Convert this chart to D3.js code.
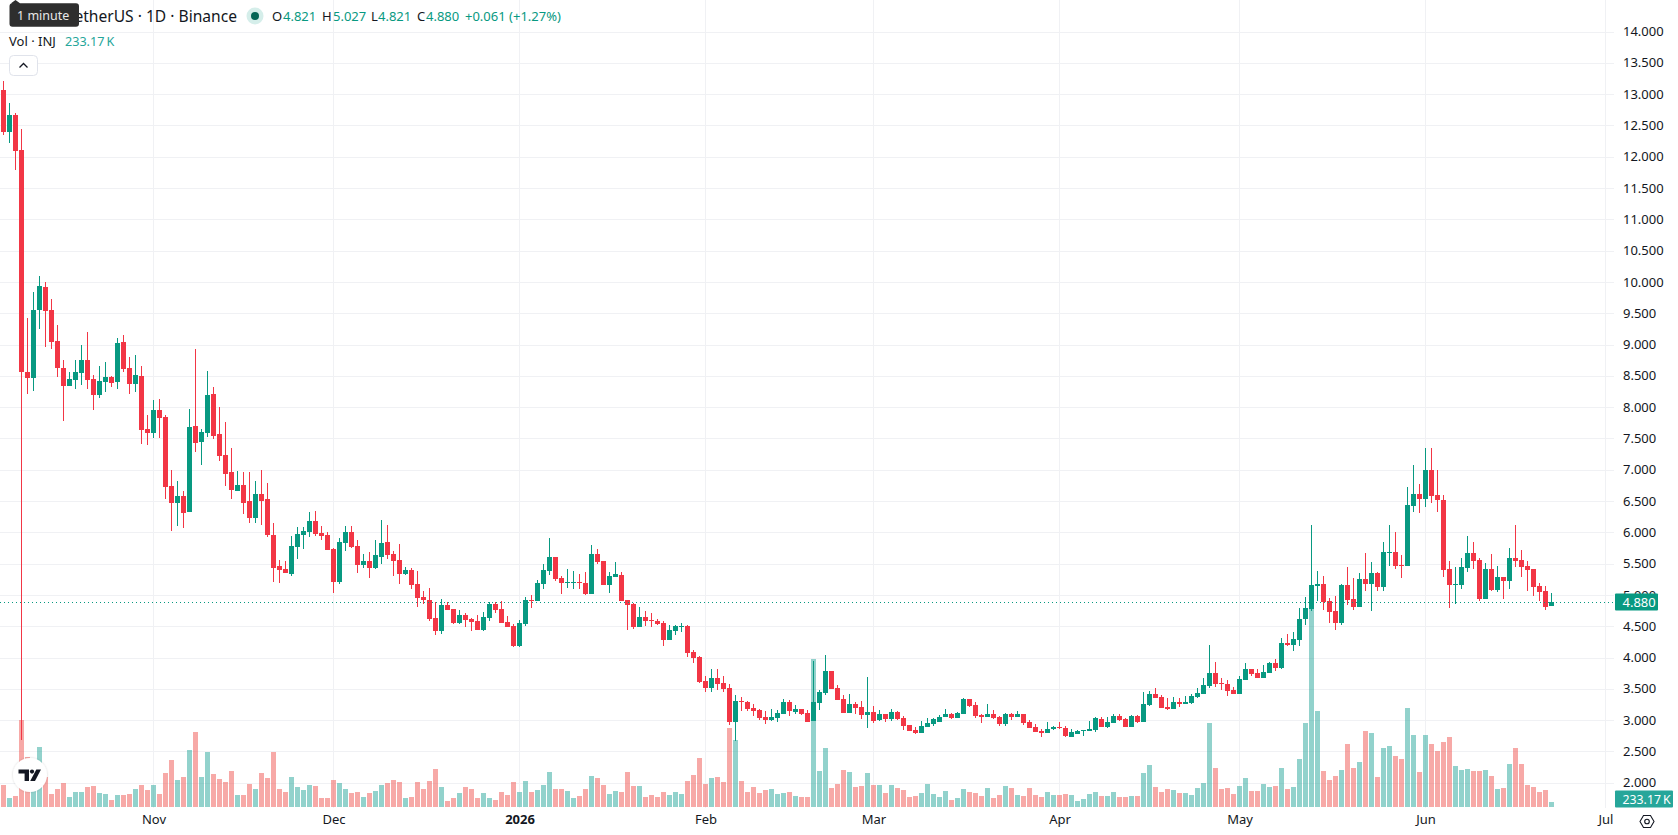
<!DOCTYPE html>
<html>
<head>
<meta charset="utf-8">
<title>INJ / TetherUS daily</title>
<script src="https://cdn.jsdelivr.net/npm/d3@7/dist/d3.min.js"></script>
<style>
  html, body { margin: 0; padding: 0; background: #fff; }
  svg { display: block; font-family: "Noto Sans", sans-serif; }
</style>
</head>
<body>
<svg id="chart" width="1678" height="835"></svg>
<script>
// Daily sessions, one entry per day starting at firstSession.
const firstSession = "2025-10-07";

const openPrices = [
  13.065,12.395,12.666,12.107,8.56,8.465,9.551,9.918,9.551,9.056,
  8.625,8.337,8.433,8.545,8.753,8.449,8.193,8.4,8.48,8.4,
  9.04,8.625,8.369,8.497,7.65,7.586,7.954,7.842,6.74,6.468,
  6.58,6.325,7.698,7.443,7.587,8.21,7.571,7.235,6.964,6.66,
  6.756,6.5,6.229,6.612,6.532,5.957,5.462,5.414,5.334,5.765,
  5.957,6.005,6.181,5.989,5.957,5.734,5.206,5.829,6.005,5.782,
  5.478,5.542,5.43,5.606,5.845,5.654,5.557,5.333,5.397,5.174,
  4.966,4.918,4.63,4.423,4.838,4.774,4.545,4.678,4.615,4.583,
  4.439,4.63,4.854,4.774,4.567,4.503,4.183,4.535,4.92,4.902,
  5.174,5.381,5.605,5.27,5.19,5.19,5.206,5.19,5.014,5.653,
  5.541,5.158,5.285,5.317,4.918,4.854,4.487,4.646,4.6,4.583,
  4.551,4.279,4.423,4.487,4.503,4.087,4.007,3.624,3.512,3.672,
  3.592,3.512,2.969,3.305,3.289,3.193,3.161,3.049,3.001,3.033,
  3.097,3.289,3.129,3.177,3.113,2.985,3.273,3.432,3.784,3.512,
  3.336,3.113,3.257,3.209,3.081,3.129,2.999,3.097,3.017,3.129,
  3.033,2.921,2.841,2.793,2.889,2.937,2.97,3.049,3.097,3.033,
  3.097,3.337,3.241,3.081,3.049,3.097,3.049,2.937,3.097,3.049,
  3.097,2.969,2.889,2.825,2.793,2.858,2.89,2.874,2.73,2.778,
  2.826,2.826,2.842,3.018,2.89,2.954,3.066,3.018,2.89,3.066,
  2.97,3.241,3.417,3.369,3.209,3.177,3.289,3.257,3.273,3.369,
  3.417,3.545,3.752,3.593,3.577,3.481,3.417,3.641,3.816,3.752,
  3.672,3.752,3.912,3.832,4.232,4.2,4.279,4.615,4.775,5.142,
  5.174,4.902,4.743,4.551,5.158,4.934,4.807,5.254,5.174,5.35,
  5.126,5.669,5.685,5.477,5.461,6.42,6.612,6.532,6.995,6.596,
  6.516,5.413,5.158,5.158,5.43,5.669,5.557,4.934,5.413,5.078,
  5.286,5.222,5.589,5.557,5.461,5.413,5.142,5.062,4.821
];

const highPrices = [
  13.21,12.858,12.70,12.44,9.42,9.84,10.094,9.998,9.727,9.31,
  8.753,8.56,8.753,8.99,9.2,8.513,8.657,8.72,8.497,9.104,
  9.152,8.8,8.832,8.657,7.874,8.113,8.13,7.874,7.0,6.82,
  6.66,7.97,8.928,7.65,8.577,8.321,8.002,7.762,7.347,6.98,
  6.964,6.964,6.82,7.0,6.788,6.149,5.558,5.542,5.941,6.085,
  6.085,6.325,6.341,6.101,6.005,5.75,5.909,6.101,6.101,5.877,
  5.654,5.686,5.877,6.197,6.117,5.702,5.813,5.445,5.429,5.381,
  5.062,5.11,4.886,4.934,4.886,4.774,4.758,4.71,4.63,4.678,
  4.726,4.886,4.886,4.902,4.662,4.535,4.599,4.966,4.998,5.238,
  5.493,5.908,5.605,5.302,5.413,5.381,5.333,5.365,5.797,5.733,
  5.541,5.365,5.525,5.365,4.918,4.87,4.806,4.742,4.71,4.615,
  4.583,4.519,4.519,4.551,4.519,4.119,4.023,3.704,3.816,3.816,
  3.704,3.576,3.4,3.368,3.305,3.257,3.177,3.145,3.177,3.161,
  3.337,3.321,3.241,3.177,3.161,3.943,3.48,4.039,3.784,3.56,
  3.4,3.416,3.289,3.305,3.688,3.225,3.161,3.097,3.177,3.145,
  3.065,2.921,2.889,2.985,3.033,3.033,3.08,3.177,3.113,3.129,
  3.353,3.337,3.289,3.097,3.257,3.161,3.065,3.113,3.113,3.145,
  3.097,3.001,2.937,2.857,2.969,2.906,2.969,2.906,2.858,2.842,
  2.842,2.986,3.05,3.05,3.05,3.097,3.097,3.034,3.081,3.081,
  3.449,3.465,3.513,3.401,3.353,3.369,3.353,3.385,3.417,3.513,
  3.672,4.2,3.928,3.672,3.641,3.529,3.704,3.912,3.816,3.816,
  3.88,3.928,3.976,4.311,4.375,4.407,4.79,4.966,6.116,5.382,
  5.302,4.95,4.982,5.174,5.445,5.27,5.35,5.669,5.525,5.366,
  5.845,6.116,6.005,5.637,6.723,7.075,6.771,7.346,7.346,6.995,
  6.596,5.541,5.445,5.589,5.941,5.845,5.589,5.509,5.653,5.461,
  5.286,5.749,6.116,5.717,5.541,5.413,5.19,5.142,5.027
];

const lowPrices = [
  12.35,12.22,11.79,2.68,8.21,8.257,9.247,8.96,8.93,8.48,
  7.78,8.337,8.29,8.353,8.29,7.954,8.145,8.24,8.32,8.29,
  8.56,8.21,8.24,7.41,7.394,7.507,7.507,6.532,6.021,6.1,
  6.069,6.325,7.283,7.075,7.523,7.491,7.139,6.74,6.532,6.66,
  6.293,6.149,6.149,6.117,5.925,5.206,5.19,5.35,5.302,5.574,
  5.734,5.925,5.941,5.877,5.718,5.031,5.174,5.702,5.75,5.35,
  5.43,5.27,5.414,5.494,5.574,5.302,5.174,5.317,5.094,4.806,
  4.854,4.583,4.359,4.375,4.758,4.535,4.535,4.487,4.423,4.439,
  4.423,4.583,4.71,4.551,4.487,4.167,4.167,4.503,4.79,4.902,
  5.094,5.317,5.222,5.014,5.11,5.094,5.094,4.998,5.014,5.493,
  5.158,5.03,5.285,4.902,4.439,4.455,4.487,4.503,4.487,4.519,
  4.183,4.279,4.359,4.407,4.007,3.912,3.6,3.448,3.448,3.48,
  3.448,2.921,2.666,3.145,3.145,3.065,3.001,2.937,2.985,2.969,
  3.097,3.065,3.097,3.081,2.969,2.985,3.161,3.4,3.496,3.32,
  3.113,3.113,3.097,3.017,2.873,2.953,2.985,2.969,2.985,3.001,
  2.841,2.825,2.777,2.793,2.889,2.905,2.97,3.049,3.017,3.033,
  3.097,3.209,3.033,2.953,3.049,3.017,2.905,2.905,2.999,3.049,
  2.921,2.873,2.809,2.729,2.793,2.84,2.85,2.73,2.73,2.778,
  2.746,2.826,2.81,2.89,2.874,2.954,2.986,2.89,2.89,2.954,
  2.97,3.225,3.353,3.193,3.161,3.177,3.209,3.257,3.257,3.353,
  3.417,3.513,3.529,3.481,3.385,3.417,3.417,3.641,3.704,3.672,
  3.672,3.752,3.784,3.816,4.184,4.104,4.184,4.519,4.743,4.902,
  4.759,4.551,4.439,4.519,4.838,4.759,4.807,5.062,4.743,5.062,
  5.062,5.461,5.413,5.27,5.461,6.324,6.308,6.404,6.468,6.324,
  5.286,4.791,4.854,5.094,5.366,5.413,4.902,4.934,5.062,5.046,
  4.934,5.094,5.445,5.286,5.062,4.982,4.902,4.759,4.821
];

const closePrices = [
  12.395,12.666,12.09,8.56,8.465,9.551,9.934,9.535,9.04,8.625,
  8.337,8.449,8.56,8.753,8.433,8.193,8.417,8.48,8.385,9.024,
  8.608,8.369,8.513,7.634,7.586,7.954,7.826,6.724,6.468,6.58,
  6.308,7.682,7.427,7.603,8.194,7.539,7.219,6.932,6.676,6.756,
  6.468,6.229,6.612,6.5,5.957,5.43,5.398,5.35,5.782,5.973,
  6.021,6.181,5.973,5.941,5.718,5.206,5.845,6.005,5.766,5.478,
  5.542,5.43,5.638,5.83,5.638,5.542,5.333,5.397,5.158,4.95,
  4.918,4.615,4.423,4.838,4.758,4.551,4.678,4.599,4.567,4.439,
  4.646,4.854,4.758,4.551,4.487,4.183,4.551,4.918,4.906,5.19,
  5.397,5.605,5.254,5.19,5.206,5.206,5.19,5.014,5.653,5.525,
  5.158,5.301,5.333,4.902,4.838,4.487,4.646,4.583,4.583,4.535,
  4.279,4.439,4.503,4.503,4.071,3.991,3.613,3.512,3.672,3.576,
  3.496,2.969,3.305,3.289,3.177,3.145,3.033,3.001,3.049,3.113,
  3.289,3.145,3.177,3.097,2.969,3.289,3.448,3.784,3.496,3.32,
  3.113,3.257,3.193,3.081,3.129,2.985,3.097,3.017,3.129,3.017,
  2.905,2.825,2.793,2.905,2.953,3.017,3.049,3.097,3.033,3.113,
  3.337,3.225,3.065,3.049,3.097,3.033,2.937,3.097,3.049,3.097,
  2.953,2.873,2.809,2.793,2.857,2.89,2.874,2.746,2.81,2.826,
  2.842,2.858,3.034,2.89,2.97,3.066,3.002,2.89,3.066,2.97,
  3.257,3.417,3.353,3.193,3.177,3.289,3.257,3.289,3.385,3.433,
  3.561,3.752,3.577,3.577,3.465,3.417,3.657,3.816,3.736,3.672,
  3.768,3.912,3.832,4.232,4.2,4.296,4.615,4.79,5.158,5.174,
  4.886,4.727,4.551,5.158,4.918,4.807,5.254,5.174,5.35,5.126,
  5.685,5.685,5.461,5.461,6.436,6.612,6.532,6.995,6.58,6.516,
  5.398,5.158,5.174,5.445,5.669,5.541,4.934,5.413,5.078,5.286,
  5.222,5.589,5.541,5.445,5.398,5.126,5.046,4.807,4.88
];

// Traded volume in thousands of INJ.
const volumes = [
  1023,419,512,4046,2310,1085,2790,1395,605,837,
  1116,465,698,698,930,977,651,605,326,558,
  558,605,837,1023,791,1023,605,1581,2186,1256,
  1395,2651,3488,1395,2558,1535,1302,1163,1674,558,
  558,1070,837,1581,1349,2558,837,698,1395,930,
  791,1023,977,419,419,1256,1116,837,651,698,
  465,651,744,1023,1116,1256,1163,419,465,1163,
  837,1209,1767,930,279,419,651,930,837,419,
  651,419,326,698,558,1163,698,1209,698,791,
  1023,1628,837,837,744,419,512,837,1442,1349,
  1023,605,744,698,1628,977,977,465,558,465,
  698,558,698,605,1209,1488,2279,1070,1349,1395,
  1163,3674,3116,1209,698,930,651,791,837,605,
  651,698,512,465,465,6867,1674,2744,884,1070,
  1721,1628,930,977,1581,1023,1023,651,1023,884,
  791,465,512,651,1070,605,465,744,326,419,
  837,698,651,512,884,419,558,977,884,558,
  512,884,558,465,698,558,558,605,558,279,
  372,605,698,512,512,698,465,465,512,512,
  1581,1953,930,698,837,791,651,651,558,884,
  1116,3906,1814,837,884,605,977,1349,744,744,
  1070,930,977,1814,837,930,2232,3906,9409,4464,
  1674,1256,1442,1721,2930,1814,2093,3534,3441,1395,
  2744,2837,2372,2232,4604,3348,1628,3348,2930,2604,
  3023,3255,1907,1721,1767,1674,1674,1721,1442,837,
  884,2000,2744,2000,1023,930,698,791,233.17
];

const priceTicks = [2,2.5,3,3.5,4,4.5,5,5.5,6,6.5,7,7.5,8,8.5,9,9.5,10,10.5,11,11.5,12,12.5,13,13.5,14];
const monthTicks = ["2025-11-01","2025-12-01","2026-01-01","2026-02-01","2026-03-01","2026-04-01","2026-05-01","2026-06-01","2026-07-01"];
const monthLabels = ["Nov","Dec","2026","Feb","Mar","Apr","May","Jun","Jul"];
const lastPrice = 4.88;
const lastVolume = 233.17;

const GREEN = "#089981";
const RED = "#f23645";
const VOL_GREEN = "rgba(38,166,154,0.5)";
const VOL_RED = "rgba(239,83,80,0.5)";
const GRID = "#f0f1f4";
const INK = "#131722";

const paneRight = 1614;
const volumeBase = 807;

const svg = d3.select("#chart");
const day = 86400000;
const sessionDates = closePrices.map((_, i) => new Date(Date.parse(firstSession + "T00:00:00Z") + i * day));

const x = d3.scaleUtc()
  .domain([new Date(firstSession + "T00:00:00Z"), new Date("2026-07-01T00:00:00Z")])
  .range([3.5, 1605.5]);
const y = d3.scaleLinear().domain([2, 14]).range([782.7, 31.5]);
const yVol = d3.scaleLinear().domain([0, d3.max(volumes)]).range([volumeBase, volumeBase - 202.3]);

const crisp = v => Math.round(v) + 0.5;
const monthDates = monthTicks.map(d => new Date(d + "T00:00:00Z"));

// Grid
const grid = svg.append("g").attr("stroke", GRID).attr("stroke-width", 1).attr("shape-rendering", "crispEdges");
grid.selectAll("line.h").data(priceTicks).join("line")
  .attr("class", "h").attr("x1", 0).attr("x2", paneRight)
  .attr("y1", d => crisp(y(d))).attr("y2", d => crisp(y(d)));
grid.selectAll("line.v").data(monthDates).join("line")
  .attr("class", "v").attr("y1", 0).attr("y2", volumeBase + 1)
  .attr("x1", d => Math.floor(x(d)) + 0.5).attr("x2", d => Math.floor(x(d)) + 0.5);

// Volume histogram, beneath the candles
svg.append("g").attr("shape-rendering", "crispEdges")
  .selectAll("rect").data(volumes).join("rect")
  .attr("x", (d, i) => x(sessionDates[i]) - 2.5)
  .attr("width", 5)
  .attr("y", d => yVol(d))
  .attr("height", d => volumeBase - yVol(d))
  .attr("fill", (d, i) => closePrices[i] >= openPrices[i] ? VOL_GREEN : VOL_RED);

// Candles
const candles = svg.append("g").attr("shape-rendering", "crispEdges")
  .selectAll("g").data(closePrices).join("g")
  .attr("fill", (d, i) => d >= openPrices[i] ? GREEN : RED);
candles.append("rect")
  .attr("x", (d, i) => x(sessionDates[i]) - 0.5)
  .attr("width", 1)
  .attr("y", (d, i) => y(highPrices[i]))
  .attr("height", (d, i) => y(lowPrices[i]) - y(highPrices[i]));
candles.append("rect")
  .attr("x", (d, i) => x(sessionDates[i]) - 2.5)
  .attr("width", 5)
  .attr("y", (d, i) => y(Math.max(d, openPrices[i])))
  .attr("height", (d, i) => Math.max(1, Math.abs(y(d) - y(openPrices[i]))));

// Last-price line
svg.append("line")
  .attr("x1", 0).attr("x2", paneRight)
  .attr("y1", crisp(y(lastPrice))).attr("y2", crisp(y(lastPrice)))
  .attr("stroke", GREEN).attr("stroke-width", 1).attr("stroke-dasharray", "1 3")
  .attr("shape-rendering", "crispEdges");

// Price axis
const priceAxis = d3.axisRight(y).tickValues(priceTicks).tickFormat(d3.format(".3f")).tickSize(0).tickPadding(9);
svg.append("g").attr("transform", `translate(${paneRight},0)`).call(priceAxis)
  .call(g => g.select(".domain").remove())
  .call(g => g.selectAll("text").attr("fill", INK).attr("font-size", 13).attr("font-family", '"Noto Sans", sans-serif'));

// Time axis
const timeAxis = d3.axisBottom(x).tickValues(monthDates).tickFormat((d, i) => monthLabels[i]).tickSize(0).tickPadding(0);
svg.append("g").attr("transform", "translate(0,815)").call(timeAxis)
  .call(g => g.select(".domain").remove())
  .call(g => g.selectAll("text")
    .attr("fill", INK).attr("font-size", 13).attr("font-family", '"Noto Sans", sans-serif')
    .attr("font-weight", (d, i) => monthLabels[i] === "2026" ? 700 : 400));

// Value tags on the axis
function axisTag(cy, w, fill, label, size) {
  svg.append("rect").attr("x", 1615).attr("y", Math.round(cy) - 8.5).attr("width", w).attr("height", 17)
    .attr("fill", fill).attr("rx", 1);
  svg.append("text").attr("x", 1622.5).attr("y", cy).attr("dy", "0.36em")
    .attr("fill", "#fff").attr("font-size", size).text(label);
}
axisTag(y(lastPrice), 43, GREEN, d3.format(".3f")(lastPrice), 13);
axisTag(799.3, 58, "#26a69a", d3.format(".2f")(lastVolume) + "\u2009K", 12.3);

// Legend
const legend = svg.append("g").attr("font-size", 13);
legend.append("text").attr("x", 237).attr("y", 21.5).attr("text-anchor", "end")
  .attr("font-size", 15.6).attr("fill", INK).text("INJ / TetherUS · 1D · Binance");
legend.append("circle").attr("cx", 255).attr("cy", 16).attr("r", 8.5).attr("fill", "#d5eeea");
legend.append("circle").attr("cx", 255).attr("cy", 16).attr("r", 4).attr("fill", "#056656");

const ohlcItems = [
  ["O", 272, "4.821", 283],
  ["H", 322, "5.027", 333],
  ["L", 371, "4.821", 378],
  ["C", 417, "4.880", 426]
];
ohlcItems.forEach(([k, kx, v, vx]) => {
  legend.append("text").attr("x", kx).attr("y", 20.5).attr("fill", INK).text(k);
  legend.append("text").attr("x", vx).attr("y", 20.5).attr("fill", GREEN).text(v);
});
legend.append("text").attr("x", 465).attr("y", 20.5).attr("fill", GREEN).text("+0.061 (+1.27%)");
legend.append("text").attr("x", 9).attr("y", 45.5).attr("fill", INK).text("Vol · INJ");
legend.append("text").attr("x", 65).attr("y", 45.5).attr("fill", "#26a69a").attr("font-size", 12.6).text("233.17\u2009K");

// Collapse button
svg.append("rect").attr("x", 9.5).attr("y", 55.5).attr("width", 28).attr("height", 20).attr("rx", 4)
  .attr("fill", "#fff").attr("stroke", "#e0e3eb");
svg.append("path").attr("d", "M19.5 67.5l4-4 4 4").attr("fill", "none").attr("stroke", INK).attr("stroke-width", 1.3);

// Duration tooltip
svg.append("path").attr("d", "M9.5 6.3a3 3 0 0 1 3-3H11l4.5-3.3 4.5 3.3H76a3 3 0 0 1 3 3V23.7a3 3 0 0 1-3 3H12.5a3 3 0 0 1-3-3Z")
  .attr("fill", "#2e2e2e");
svg.append("text").attr("x", 17).attr("y", 20).attr("fill", "#e8e8e8").attr("font-size", 12.5).text("1 minute");

// Logo badge
const defs = svg.append("defs");
const shadow = defs.append("filter").attr("id", "badgeShadow").attr("x", "-30%").attr("y", "-30%").attr("width", "160%").attr("height", "160%");
shadow.append("feDropShadow").attr("dx", 0).attr("dy", 0).attr("stdDeviation", 1).attr("flood-color", "#000").attr("flood-opacity", 0.18);
svg.append("circle").attr("cx", 30).attr("cy", 775).attr("r", 17).attr("fill", "#fff").attr("filter", "url(#badgeShadow)");
svg.append("path").attr("d", "M18.5 769.5H29V781h-4.4v-7.4h-6.1Z").attr("fill", "#131722");
svg.append("circle").attr("cx", 32).attr("cy", 771.6).attr("r", 2.1).attr("fill", "#131722");
svg.append("path").attr("d", "M36.3 769.5H41L35 781h-4.8Z").attr("fill", "#131722");

// Settings icon
svg.append("path").attr("d", "M1640 821.5l3.5-6h7l3.5 6-3.5 6h-7Z").attr("fill", "none").attr("stroke", INK).attr("stroke-width", 1.1);
svg.append("circle").attr("cx", 1647).attr("cy", 821.5).attr("r", 2.3).attr("fill", "none").attr("stroke", INK).attr("stroke-width", 1.1);
</script>
</body>
</html>
